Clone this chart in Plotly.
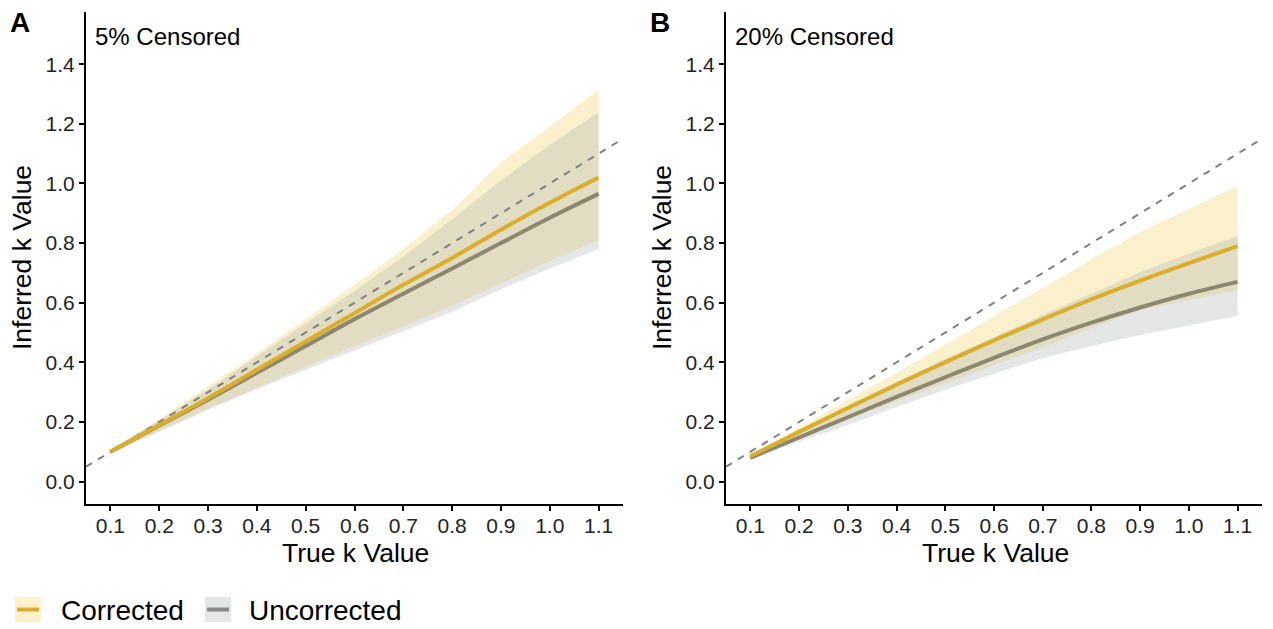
import plotly.graph_objects as go

# ---------------- data ----------------
true_k = [0.1, 0.2, 0.3, 0.4, 0.5, 0.6, 0.7, 0.8, 0.9, 1.0, 1.1]

# Panel A: 5% censored
a_corr = [0.10, 0.19, 0.28, 0.375, 0.47, 0.565, 0.66, 0.75, 0.845, 0.935, 1.02]
a_corr_lo = [0.095, 0.17, 0.245, 0.315, 0.385, 0.455, 0.52, 0.59, 0.665, 0.74, 0.81]
a_corr_hi = [0.105, 0.21, 0.32, 0.43, 0.545, 0.66, 0.78, 0.91, 1.07, 1.19, 1.315]
a_unc = [0.10, 0.188, 0.275, 0.365, 0.455, 0.545, 0.63, 0.715, 0.80, 0.885, 0.965]
a_unc_lo = [0.095, 0.168, 0.24, 0.31, 0.375, 0.44, 0.505, 0.57, 0.645, 0.715, 0.78]
a_unc_hi = [0.105, 0.205, 0.31, 0.42, 0.53, 0.64, 0.755, 0.88, 1.01, 1.13, 1.24]

# Panel B: 20% censored
b_corr = [0.085, 0.167, 0.247, 0.325, 0.401, 0.474, 0.544, 0.611, 0.674, 0.733, 0.79]
b_corr_lo = [0.08, 0.148, 0.21, 0.27, 0.33, 0.39, 0.45, 0.515, 0.576, 0.61, 0.643]
b_corr_hi = [0.09, 0.18, 0.275, 0.365, 0.459, 0.555, 0.65, 0.745, 0.837, 0.915, 0.991]
b_unc = [0.08, 0.148, 0.216, 0.284, 0.35, 0.415, 0.477, 0.533, 0.584, 0.63, 0.67]
b_unc_lo = [0.075, 0.135, 0.19, 0.25, 0.308, 0.362, 0.415, 0.455, 0.492, 0.525, 0.556]
b_unc_hi = [0.088, 0.172, 0.255, 0.335, 0.41, 0.485, 0.56, 0.63, 0.703, 0.765, 0.824]

identity_x = [0.05, 1.15]
x_ticks = [0.1, 0.2, 0.3, 0.4, 0.5, 0.6, 0.7, 0.8, 0.9, 1.0, 1.1]
x_ticklabels = ["0.1", "0.2", "0.3", "0.4", "0.5", "0.6", "0.7", "0.8", "0.9", "1.0", "1.1"]
y_ticks = [0.0, 0.2, 0.4, 0.6, 0.8, 1.0, 1.2, 1.4]
y_ticklabels = ["0.0", "0.2", "0.4", "0.6", "0.8", "1.0", "1.2", "1.4"]
panel_titles = ["5% Censored", "20% Censored"]
panel_letters = ["A", "B"]
series_names = ["Corrected", "Uncorrected"]

# ---------------- style ----------------
FONT = "Liberation Sans, Arial, sans-serif"
GOLD = "#D9AE2A"
GOLD_RIB = "rgba(238,205,82,0.30)"
GREY_LINE = "#8E8770"
GREY_RIB = "rgba(168,175,175,0.30)"
# page body has an 8px margin
W, H = 1265, 621
ML, MR, MT, MB = 78, 11, 4, 125
PW = W - ML - MR
PH = H - MT - MB
OFF = 8  # body margin


def px_x(p):  # screen px -> paper
    return (p - OFF - ML) / PW


def px_y(p):
    return (H - MB - (p - OFF)) / PH


fig = go.Figure()

panels = [
    ("x", "y", a_corr, a_corr_lo, a_corr_hi, a_unc, a_unc_lo, a_unc_hi),
    ("x2", "y2", b_corr, b_corr_lo, b_corr_hi, b_unc, b_unc_lo, b_unc_hi),
]

for xa, ya, c, clo, chi, u, ulo, uhi in panels:
    for lo, hi, col in [(clo, chi, GOLD_RIB), (ulo, uhi, GREY_RIB)]:
        fig.add_trace(go.Scatter(x=true_k + true_k[::-1], y=hi + lo[::-1], fill="toself",
                                 fillcolor=col, line=dict(width=0), mode="lines",
                                 hoverinfo="skip", showlegend=False, xaxis=xa, yaxis=ya))
    fig.add_trace(go.Scatter(x=identity_x, y=identity_x, mode="lines",
                             line=dict(color="#808080", width=2, dash="7px,7px"),
                             showlegend=False, xaxis=xa, yaxis=ya))
    fig.add_trace(go.Scatter(x=true_k, y=u, mode="lines", line=dict(color=GREY_LINE, width=4, shape="spline"),
                             name=series_names[1], showlegend=False, xaxis=xa, yaxis=ya))
    fig.add_trace(go.Scatter(x=true_k, y=c, mode="lines", line=dict(color=GOLD, width=4, shape="spline"),
                             name=series_names[0], showlegend=False, xaxis=xa, yaxis=ya))

axis_common = dict(showline=True, linecolor="black", linewidth=2, ticks="outside", ticklen=5,
                   tickwidth=2, tickcolor="black", showgrid=False, zeroline=False,
                   tickfont=dict(family=FONT, size=21, color="#222222"))

dA = [0, px_x(623)]
dB = [px_x(726), 1.0]

fig.update_layout(
    width=W, height=H, margin=dict(l=ML, r=MR, t=MT, b=MB),
    paper_bgcolor="white", plot_bgcolor="white", showlegend=False,
    font=dict(family=FONT),
    xaxis=dict(domain=dA, range=[0.05, 1.15], tickvals=x_ticks, ticktext=x_ticklabels, anchor="y",
               ticklabelstandoff=-3, **axis_common),
    yaxis=dict(domain=[0, 1], range=[-0.075, 1.575], tickvals=y_ticks, ticktext=y_ticklabels, anchor="x", **axis_common),
    xaxis2=dict(domain=dB, range=[0.05, 1.15], tickvals=x_ticks, ticktext=x_ticklabels, anchor="y2",
                ticklabelstandoff=-3, **axis_common),
    yaxis2=dict(domain=[0, 1], range=[-0.075, 1.575], tickvals=y_ticks, ticktext=y_ticklabels, anchor="x2", **axis_common),
)

ann = []
for x0, letter, title in [(0, panel_letters[0], panel_titles[0]), (640, panel_letters[1], panel_titles[1])]:
    ann.append(dict(x=px_x(8 + x0), y=px_y(22), xref="paper", yref="paper", text="<b>%s</b>" % letter,
                    showarrow=False, xanchor="left", yanchor="middle", font=dict(size=28, color="black", family=FONT)))
    ann.append(dict(x=px_x(93 + x0), y=px_y(36), xref="paper", yref="paper", text=title,
                    showarrow=False, xanchor="left", yanchor="middle", font=dict(size=24, color="black", family=FONT)))
    ann.append(dict(x=px_x(355 + x0), y=px_y(553), xref="paper", yref="paper", text="True k Value",
                    showarrow=False, xanchor="center", yanchor="middle", font=dict(size=26.5, color="black", family=FONT)))
    ann.append(dict(x=px_x(22 + x0), y=px_y(258), xref="paper", yref="paper", text="Inferred k Value", textangle=-90,
                    showarrow=False, xanchor="center", yanchor="middle", font=dict(size=26.5, color="black", family=FONT)))

shapes = []
for kx, rib, linec, name, tx in [(15, "#FBF1CC", GOLD, series_names[0], 59), (205, "#E5E7E7", "#8A8A8A", series_names[1], 247)]:
    shapes.append(dict(type="rect", xref="paper", yref="paper", x0=px_x(kx), x1=px_x(kx + 26),
                       y0=px_y(622), y1=px_y(597), fillcolor=rib, line=dict(width=0)))
    shapes.append(dict(type="line", xref="paper", yref="paper", x0=px_x(kx + 2), x1=px_x(kx + 24),
                       y0=px_y(609.5), y1=px_y(609.5), line=dict(color=linec, width=4)))
    ann.append(dict(x=px_x(tx), y=px_y(610), xref="paper", yref="paper", text=name, showarrow=False,
                    xanchor="left", yanchor="middle", font=dict(size=28, color="black", family=FONT)))

fig.update_layout(annotations=ann, shapes=shapes)
fig.write_html("out.html")
